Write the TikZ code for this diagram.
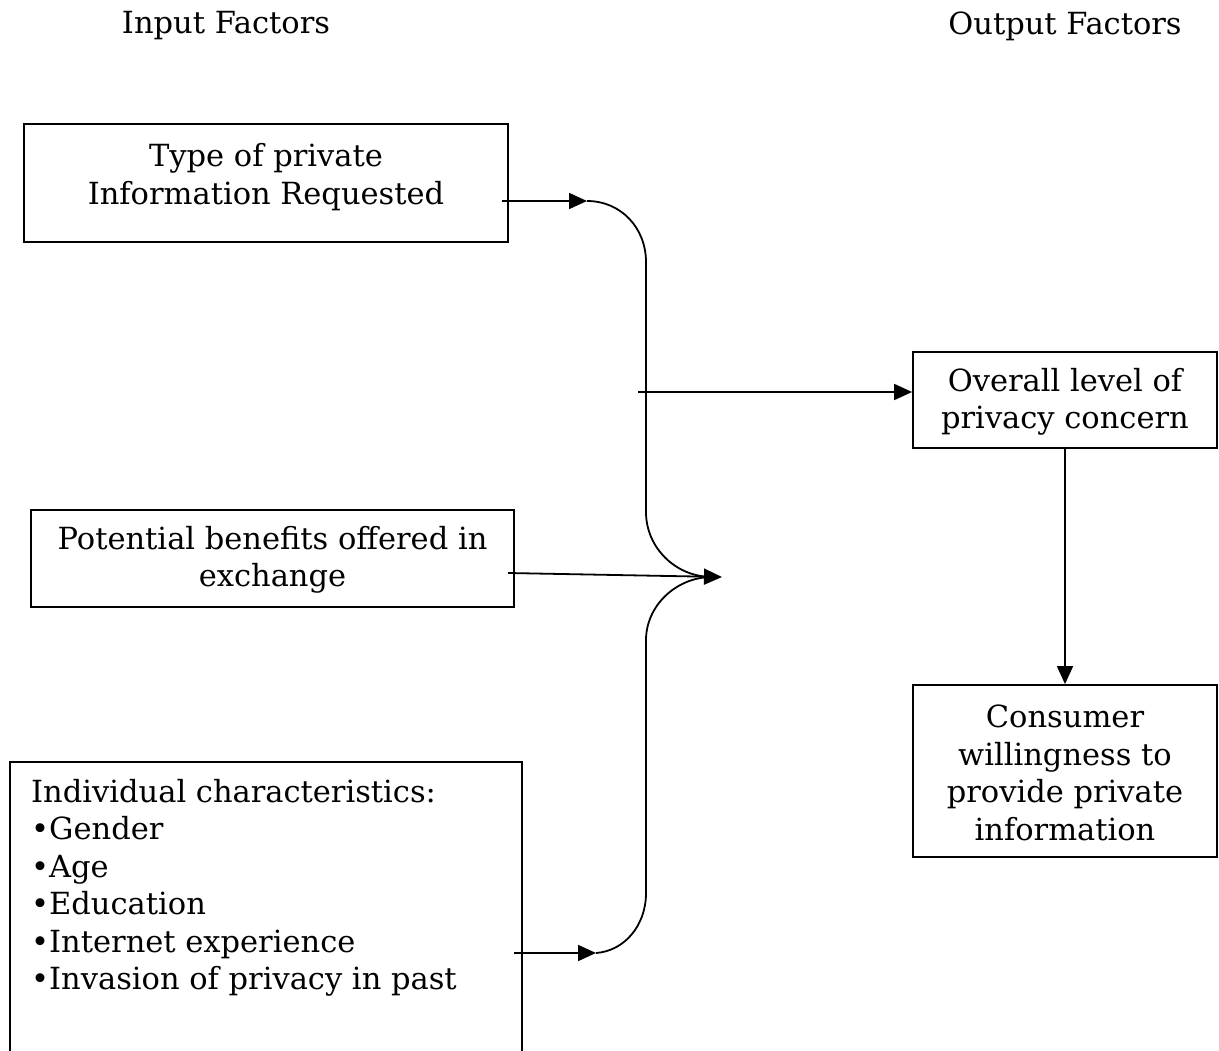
\documentclass[tikz,border=0pt]{standalone}
\usepackage{fontspec}
\setmainfont{DejaVu Serif}
\usetikzlibrary{arrows.meta}
\tikzset{
  box/.style={draw, line width=1.8pt, inner sep=0pt},
  txt/.style={align=center, inner sep=0pt, font=\fontsize{30.5}{37.5}\selectfont},
  conn/.style={line width=1.8pt},
  arr/.style={conn, -{Triangle[length=18pt,width=16pt]}}
}
\begin{document}
\begin{tikzpicture}[x=1pt,y=-1pt]
\path[use as bounding box, clip] (0,0) rectangle (1219,1051);
\fill[white] (0,0) rectangle (1219,1051);
% headers
\node[txt] (hin) at (226,26) {Input Factors};
\node[txt] (hout) at (1065,26) {Output Factors};
% boxes
\node[box, minimum width=484pt, minimum height=118pt] (b1) at (266,183) {};
\node[txt] (t1) at (266,177) {Type of private\\Information Requested};
\node[box, minimum width=483pt, minimum height=97pt] (b2) at (272.5,558.5) {};
\node[txt] (t2) at (272.5,560) {Potential benefits offered in\\exchange};
\draw[line width=1.8pt] (10,1060) -- (10,762) -- (522,762) -- (522,1060);
\node[txt, align=left, anchor=north west] (t3) at (31,779)
  {Individual characteristics:\\•Gender\\•Age\\•Education\\•Internet experience\\•Invasion of privacy in past};
\node[box, minimum width=304pt, minimum height=96pt] (b4) at (1065,400) {};
\node[txt] (t4) at (1065,402) {Overall level of\\privacy concern};
\node[box, minimum width=304pt, minimum height=172pt] (b5) at (1065,771) {};
\node[txt] (t5) at (1065,773) {Consumer\\willingness to\\provide private\\information};
% connector points
\coordinate (s1) at (502,201);
\coordinate (e1) at (587,201);
\coordinate (s2) at (508,573);
\coordinate (e2) at (722,577);
\coordinate (m2) at (712,577);
\coordinate (s3) at (514,953);
\coordinate (e3) at (596,953);
\coordinate (s4) at (638,392);
% arrows
\draw[arr] (s1) -- (e1);
\draw[arr] (s2) -- (e2);
\draw[arr] (s3) -- (e3);
\draw[arr] (s4) -- (b4.west |- s4);
\draw[arr] (b4.south) -- (b5.north);
% brace
\draw[conn] (e1) .. controls (621,201) and (646,228) .. (646,262) -- (646,512)
  .. controls (646,548) and (676,577) .. (m2);
\draw[conn] (m2) .. controls (676,577) and (646,606) .. (646,640) -- (646,893)
  .. controls (646,926) and (624,951) .. (e3);
\end{tikzpicture}
\end{document}
